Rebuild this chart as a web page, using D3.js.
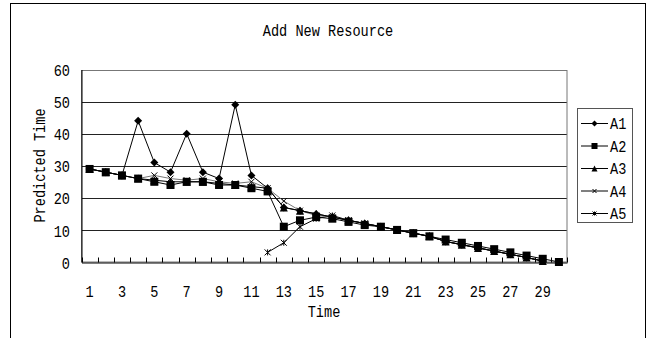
<!DOCTYPE html>
<html><head><meta charset="utf-8">
<script src="https://cdn.jsdelivr.net/npm/d3@7"></script>
<style>
html,body{margin:0;padding:0;background:#fff;}
svg text{font-family:"Liberation Mono","DejaVu Sans Mono",monospace;font-size:17px;fill:#000;}
</style></head>
<body><svg id="c" width="654" height="338"></svg>
<script>
const categories = d3.range(1, 31);
const xTickLabels = [1,3,5,7,9,11,13,15,17,19,21,23,25,27,29];
const yTickValues = [0,10,20,30,40,50,60];
const seriesNames = ["A1","A2","A3","A4","A5"];
const A1 = [29,28,27,44,31,28,40,28,26,49,27,23,17,16,15,14,13,12,11,10,9,8,6.4,5.4,4.4,3.4,2.4,1.4,0.3,null];
const A2 = [29,28,27,26,25,24,25,25,24,24,23,22,11,13,14,13.5,12.5,11.5,11,10,9,8,7,6,5,4,3,2,1,0];
const A3 = [29,28,27,26,25.5,25,25,25,24.5,24,23.5,23,17,16,15,14,13,12,11,10,9,8,6.4,5.4,4.4,3.4,2.4,1.4,0.3,null];
const A4 = [29,28,27,26,27,26,25.5,26,25,24.5,25,23,19,16,14.5,14,13,12,11,10,9,8,6.4,5.4,4.4,3.4,2.4,1.4,0.3,null];
const A5 = [null,null,null,null,null,null,null,null,null,null,null,3,6,11,13.5,14.5,13,12,11,10,9,8,6.4,5.4,4.4,3.4,2.4,1.4,0.3,null];
const seriesValues = [A1,A2,A3,A4,A5];
const chartTitle = "Add New Resource";
const xTitle = "Time";
const yTitle = "Predicted Time";

const svg = d3.select("#c");
const SX = 0.8;
const FONT = '"Liberation Mono","DejaVu Sans Mono",monospace';
const L = 81.5, R = 567, T = 69.5, B = 262;

// outer frame
svg.append("rect").attr("x",10.5).attr("y",3.5).attr("width",635).attr("height",340)
  .attr("fill","none").attr("stroke","#000").attr("stroke-width",1);

const x = d3.scaleBand().domain(categories).range([L, R]).padding(0);
const y = d3.scaleLinear().domain([0, 60]).range([B, T]);

// gridlines
svg.append("g").selectAll("line").data(yTickValues.filter(v => v > 0)).join("line")
  .attr("x1", L).attr("x2", R).attr("y1", d => Math.round(y(d)) + 0.5).attr("y2", d => Math.round(y(d)) + 0.5)
  .attr("stroke", "#222").attr("stroke-width", 1);

// plot border
svg.append("rect").attr("x", L).attr("y", Math.round(y(60)) + 0.5).attr("width", R - L).attr("height", B - Math.round(y(60)) - 0.5)
  .attr("fill", "none").attr("stroke", "#777").attr("stroke-width", 1);

// y axis
const yAxis = svg.append("g").attr("transform", `translate(${L},0)`)
  .call(d3.axisLeft(y).tickValues(yTickValues).tickSize(0).tickFormat(d3.format("d")));
yAxis.select(".domain").attr("stroke", "#000");
yAxis.selectAll("text").attr("x", -11.5 / SX).attr("dy", "0.36em").attr("transform", `scale(${SX},1)`)
  .style("font-family", FONT).style("font-size", "17px");

// x axis
const xAxis = svg.append("g").attr("transform", `translate(0,${B + 0.5})`)
  .call(d3.axisBottom(x).tickValues(xTickLabels).tickSize(0));
xAxis.select(".domain").attr("stroke", "#000");
xAxis.selectAll("text").attr("y", 35).attr("dy", 0).attr("transform", `scale(${SX},1)`)
  .style("font-family", FONT).style("font-size", "17px");

// category boundary ticks (inside)
const bounds = categories.map(c => x(c)).concat([x(categories[categories.length - 1]) + x.bandwidth()]);
svg.append("g").selectAll("line").data(bounds).join("line")
  .attr("x1", d => Math.round(d) + 0.5).attr("x2", d => Math.round(d) + 0.5)
  .attr("y1", B + 0.5).attr("y2", B - 4.5).attr("stroke", "#000");

function label(txt, px, py, rot) {
  svg.append("text").attr("text-anchor", "middle")
    .attr("transform", `translate(${px},${py})${rot ? " rotate(-90)" : ""} scale(${SX},1)`)
    .text(txt);
}
label(chartTitle, 328, 36);
label(xTitle, 324, 317);
label(yTitle, 45, 165.5, true);

// markers
function marker(g, type, s) {
  const h = s / 2;
  if (type === "diamond") g.append("path").attr("d", `M0,${-h}L${h},0L0,${h}L${-h},0Z`).attr("fill", "#000");
  else if (type === "square") g.append("rect").attr("x", -h).attr("y", -h).attr("width", s).attr("height", s).attr("fill", "#000");
  else if (type === "triangle") g.append("path").attr("d", `M0,${-h}L${h},${h}L${-h},${h}Z`).attr("fill", "#000");
  else if (type === "x") g.append("path").attr("d", `M${-h},${-h}L${h},${h}M${h},${-h}L${-h},${h}`).attr("stroke", "#000").attr("stroke-width", 1).attr("fill", "none");
  else if (type === "star") g.append("path").attr("d", `M${-h},${-h}L${h},${h}M${h},${-h}L${-h},${h}M0,${-h}L0,${h}`).attr("stroke", "#000").attr("stroke-width", 1).attr("fill", "none");
}
const types = ["diamond", "square", "triangle", "x", "star"];
const sizes = [8, 8, 8, 6, 6];
const lineColors = ["#000", "#000", "#000", "#777", "#000"];
const cx = c => x(c) + x.bandwidth() / 2;

const line = d3.line().defined(d => d.v != null).x(d => cx(d.c)).y(d => y(d.v));
[4, 3, 2, 0, 1].forEach(i => {
  const data = categories.map((c, j) => ({ c, v: seriesValues[i][j] }));
  svg.append("path").datum(data).attr("d", line).attr("fill", "none")
    .attr("stroke", lineColors[i]).attr("stroke-width", 1);
  data.filter(d => d.v != null).forEach(d => {
    const g = svg.append("g").attr("transform", `translate(${cx(d.c)},${y(d.v)})`);
    marker(g, types[i], sizes[i]);
  });
});

// legend
svg.append("rect").attr("x", 577.5).attr("y", 108.5).attr("width", 55).attr("height", 114)
  .attr("fill", "#fff").attr("stroke", "#555").attr("stroke-width", 1);
const legY = d3.scalePoint().domain(seriesNames).range([123, 213]);
seriesNames.forEach((n, i) => {
  const yy = legY(n);
  svg.append("line").attr("x1", 581).attr("x2", 608).attr("y1", yy + 0.5).attr("y2", yy + 0.5).attr("stroke", "#000");
  const g = svg.append("g").attr("transform", `translate(594.5,${yy + 0.5})`);
  marker(g, types[i], [6, 6, 6, 4, 4][i]);
  svg.append("text").attr("transform", `translate(610,${yy + 6}) scale(${SX},1)`).text(n);
});
</script></body></html>
